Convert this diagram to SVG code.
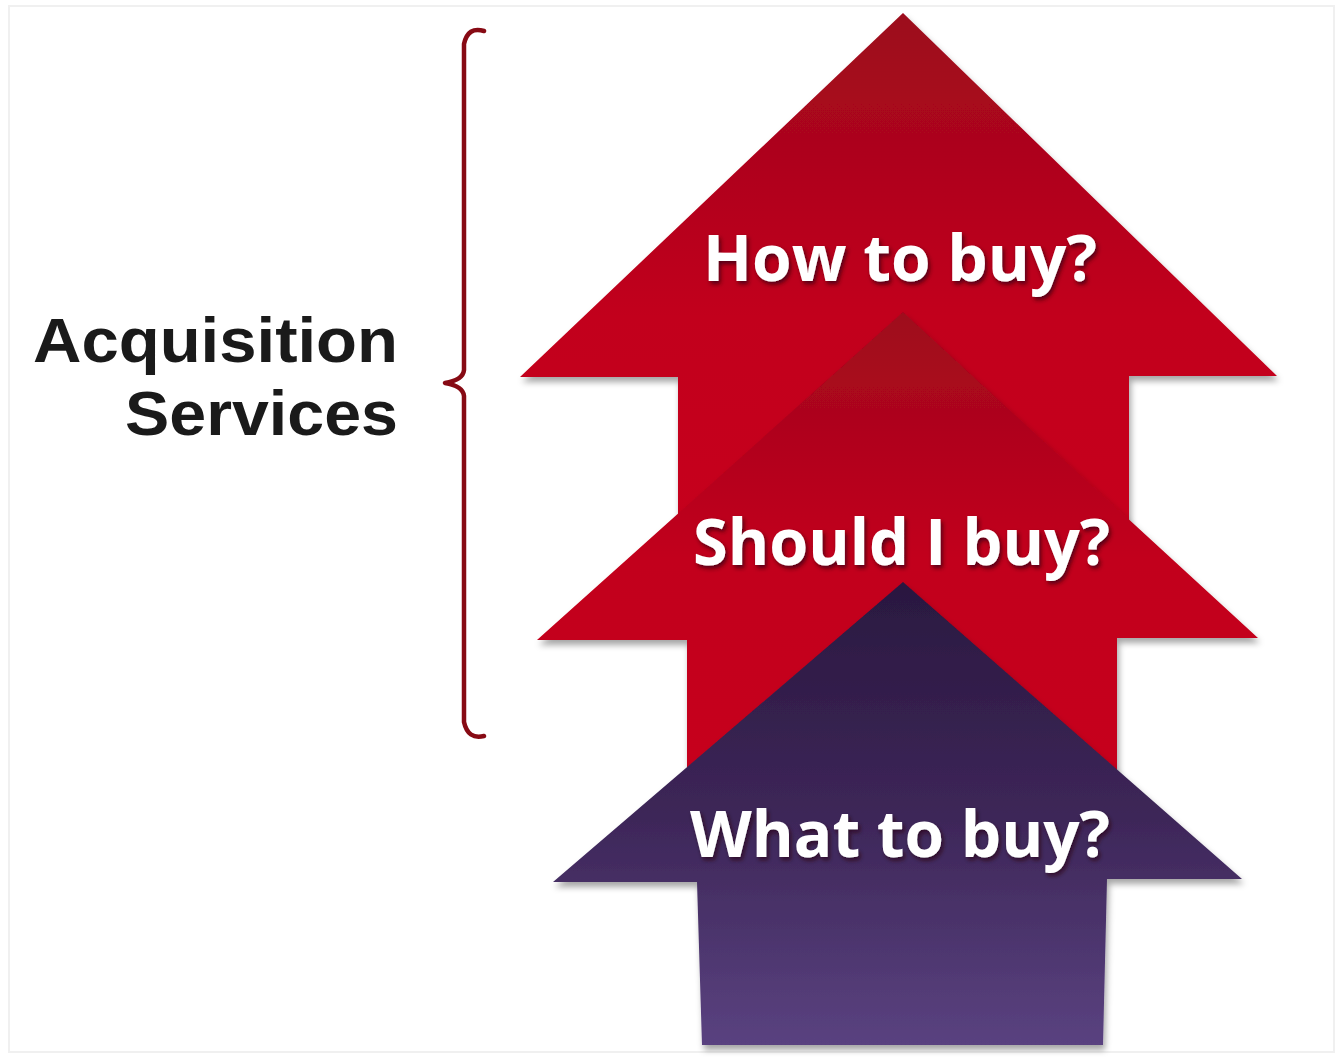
<svg xmlns="http://www.w3.org/2000/svg" width="1340" height="1057" viewBox="0 0 1340 1057">
  <defs>
    <linearGradient id="redTop" x1="0" y1="13" x2="0" y2="620" gradientUnits="userSpaceOnUse">
      <stop offset="0" stop-color="#9c0a1c"/>
      <stop offset="0.5" stop-color="#c2001a"/>
      <stop offset="1" stop-color="#c8001a"/>
    </linearGradient>
    <linearGradient id="redMid" x1="0" y1="312" x2="0" y2="860" gradientUnits="userSpaceOnUse">
      <stop offset="0" stop-color="#9e0a1e"/>
      <stop offset="0.45" stop-color="#c2001a"/>
      <stop offset="1" stop-color="#c8001a"/>
    </linearGradient>
    <linearGradient id="purple" x1="0" y1="582" x2="0" y2="1046" gradientUnits="userSpaceOnUse">
      <stop offset="0" stop-color="#2a1840"/>
      <stop offset="0.5" stop-color="#3d2658"/>
      <stop offset="1" stop-color="#5a4280"/>
    </linearGradient>
    <filter id="shadow" x="-10%" y="-10%" width="120%" height="120%">
      <feDropShadow dx="2" dy="5" stdDeviation="3" flood-color="#000" flood-opacity="0.35"/>
    </filter>
    <filter id="textShadow" x="-10%" y="-20%" width="120%" height="150%">
      <feDropShadow dx="2" dy="3" stdDeviation="2" flood-color="#2a0008" flood-opacity="0.7"/>
    </filter>
  </defs>
  <style>
    .label { font-family: "Open Sans", "Liberation Sans", sans-serif; font-weight: 700; font-size: 64px; fill: #ffffff; }
    .title { font-family: "Liberation Sans", Arial, sans-serif; font-weight: 700; font-size: 63px; fill: #1a1a1a; }
    .brace { fill: none; stroke: #870a14; stroke-width: 4.5; stroke-linecap: round; stroke-linejoin: round; }
  </style>

  <rect x="0" y="0" width="1340" height="1057" fill="#ffffff"/>
  <rect x="9" y="6" width="1325" height="1046" fill="none" stroke="#f0f0f0" stroke-width="2"/>

  <g id="title">
    <text class="title" x="33" y="362" textLength="365" lengthAdjust="spacingAndGlyphs">Acquisition</text>
    <text class="title" x="398" y="435" text-anchor="end" textLength="273" lengthAdjust="spacingAndGlyphs">Services</text>
  </g>

  <g id="connectors">
    <path class="brace" d="M 484 31 Q 468 26 464 44 L 464 370 Q 463 380 445 383 Q 463 386 464 396 L 464 722 Q 468 740 484 736"/>
  </g>

  <g id="arrow-how">
    <path d="M 903 13 L 1277 376 L 1129 376 L 1129 620 L 678 620 L 678 377 L 520 377 Z" fill="url(#redTop)" filter="url(#shadow)"/>
    <text class="label" x="703" y="281" textLength="394" lengthAdjust="spacingAndGlyphs" filter="url(#textShadow)">How to buy?</text>
  </g>

  <g id="arrow-should">
    <path d="M 903 312 L 1258 638 L 1117 638 L 1117 860 L 687 860 L 687 640 L 537 640 Z" fill="url(#redMid)" filter="url(#shadow)"/>
    <text class="label" x="693" y="565" textLength="417" lengthAdjust="spacingAndGlyphs" filter="url(#textShadow)">Should I buy?</text>
  </g>

  <g id="arrow-what">
    <path d="M 903 582 L 1242 879 L 1107 879 L 1103 1045 L 702 1045 L 697 882 L 553 882 Z" fill="url(#purple)" filter="url(#shadow)"/>
    <text class="label" x="690" y="857" textLength="420" lengthAdjust="spacingAndGlyphs" filter="url(#textShadow)">What to buy?</text>
  </g>
</svg>
